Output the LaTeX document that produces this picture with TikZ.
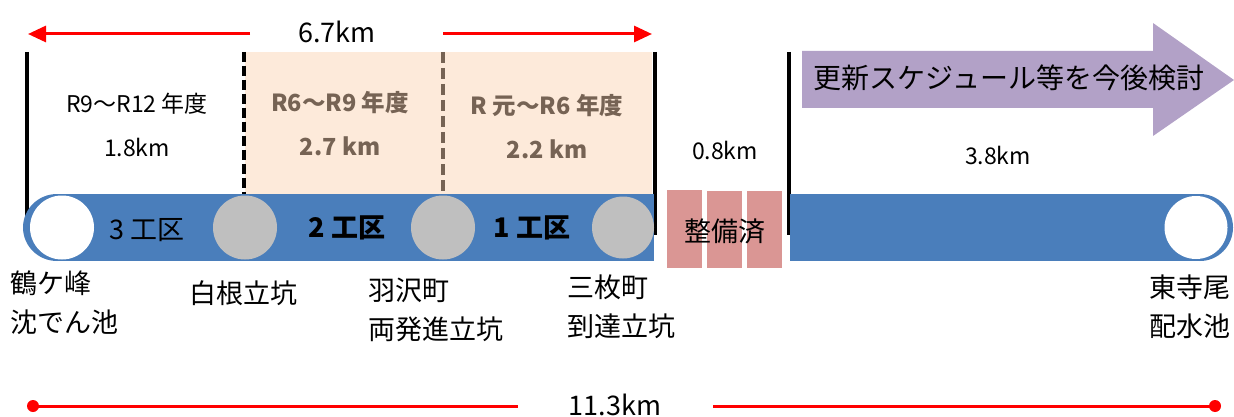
\documentclass[tikz,border=0pt]{standalone}
\usepackage{fontspec}
\setmainfont{Noto Sans CJK JP}
\usetikzlibrary{arrows.meta}
\definecolor{pipeblue}{HTML}{4A7EBB}
\definecolor{shaftgray}{HTML}{BFBFBF}
\definecolor{peach}{HTML}{FDEADA}
\definecolor{brownish}{HTML}{766354}
\definecolor{donepink}{HTML}{DA9694}
\definecolor{planpurple}{HTML}{B2A1C7}
\definecolor{redline}{HTML}{FF0000}
\tikzset{
  lbl/.style={inner sep=0pt, font=\fontsize{23}{27}\selectfont},
  blbl/.style={inner sep=0pt, font=\bfseries\fontsize{23.5}{27}\selectfont, text=brownish},
  zone/.style={inner sep=0pt, font=\fontsize{27}{30}\selectfont},
  bzone/.style={inner sep=0pt, font=\bfseries\fontsize{27}{30}\selectfont},
  place/.style={inner sep=0pt, font=\fontsize{27}{39}\selectfont, align=left},
  divider/.style={line width=3.5pt, black},
  redarrow/.style={line width=3pt, redline, -{Triangle[length=18pt,width=16pt]}},
  redbar/.style={line width=3pt, redline},
  shaft/.style={fill=shaftgray, draw=none},
  donebox/.style={fill=donepink, draw=none},
}
\begin{document}
\begin{tikzpicture}[x=1pt,y=-1pt]
\useasboundingbox (0,0) rectangle (1234,417);
% peach area
\fill[peach] (245,52) rectangle (652,195);
% dividers
\draw[divider] (27,52) -- (27,232);
\draw[divider] (655,52) -- (655,235);
\draw[divider] (789,52) -- (789,235);
\draw[line width=3.5pt, black, dash pattern=on 10pt off 4pt] (244,52) -- (244,195);
\draw[line width=4pt, brownish, dash pattern=on 11pt off 5pt] (443,52) -- (443,195);
% left pipe
\fill[pipeblue] (57,194) rectangle (654,261);
\fill[pipeblue] (57,227.5) ellipse [x radius=34, y radius=33.5];
\fill[white] (62,227.5) circle [radius=32];
\fill[shaftgray] (245,227.5) circle [radius=32];
\fill[shaftgray] (443,227.5) circle [radius=32];
\fill[shaftgray] (623,227.5) circle [radius=31];
% right pipe
\fill[pipeblue] (790,194) rectangle (1199,261);
\fill[pipeblue] (1200,227.5) ellipse [x radius=33, y radius=33.5];
\fill[white] (1196,227.5) circle [radius=31.5];
% done boxes
\fill[donebox] (667,190) rectangle (702,268);
\fill[donebox] (707,191) rectangle (742,268);
\fill[donebox] (747,191) rectangle (782,268);
\node[zone] (done) at (725,231) {整備済};
% purple arrow
\fill[planpurple] (802,51) -- (1153,51) -- (1153,23) -- (1234,80) -- (1153,136) -- (1153,108) -- (802,108) -- cycle;
\node[inner sep=0pt, font=\fontsize{28}{31}\selectfont] (plan) at (1009,78) {更新スケジュール等を今後検討};
% top arrows
\node[inner sep=0pt, font=\fontsize{27}{30}\selectfont] (total67) at (337,32) {6.7km};
\coordinate (a1s) at (250,34);
\coordinate (a1e) at (28,34);
\coordinate (a2s) at (443,34);
\coordinate (a2e) at (652,34);
\draw[redarrow] (a1s) -- (a1e);
\draw[redarrow] (a2s) -- (a2e);
% period labels
\node[lbl] (p3) at (137,104) {R9～R12 年度};
\node[lbl] (d3) at (137,147) {1.8km};
\node[blbl] (p2) at (340,103) {R6～R9 年度};
\node[blbl] (d2) at (340,146) {2.7 km};
\node[blbl] (p1) at (547,106) {R 元～R6 年度};
\node[blbl] (d1) at (547,149) {2.2 km};
\node[lbl] (d0) at (725,150) {0.8km};
\node[lbl] (d4) at (998,155) {3.8km};
% zones
\node[zone] (z3) at (147,230) {3 工区};
\node[bzone] (z2) at (347,228) {2 工区};
\node[bzone] (z1) at (532,228) {1 工区};
% places
\node[place, anchor=north west] (s1) at (10,271) {鶴ケ峰\\沈でん池};
\node[place, anchor=north west] (s2) at (189,281) {白根立坑};
\node[place, anchor=north west] (s3) at (368,278) {羽沢町\\両発進立坑};
\node[place, anchor=north west] (s4) at (567,275) {三枚町\\到達立坑};
\node[place, anchor=north east, align=right] (s5) at (1231,275) {東寺尾\\配水池};
% total
\node[inner sep=0pt, font=\fontsize{27}{30}\selectfont] (total) at (615,405) {11.3km};
\coordinate (b1s) at (33,406);
\coordinate (b1e) at (518,406);
\coordinate (b2s) at (713,406);
\coordinate (b2e) at (1215,406);
\draw[redbar] (b1s) -- (b1e);
\draw[redbar] (b2s) -- (b2e);
\fill[redline] (b1s) circle [radius=6];
\fill[redline] (b2e) circle [radius=6];
\end{tikzpicture}
\end{document}
